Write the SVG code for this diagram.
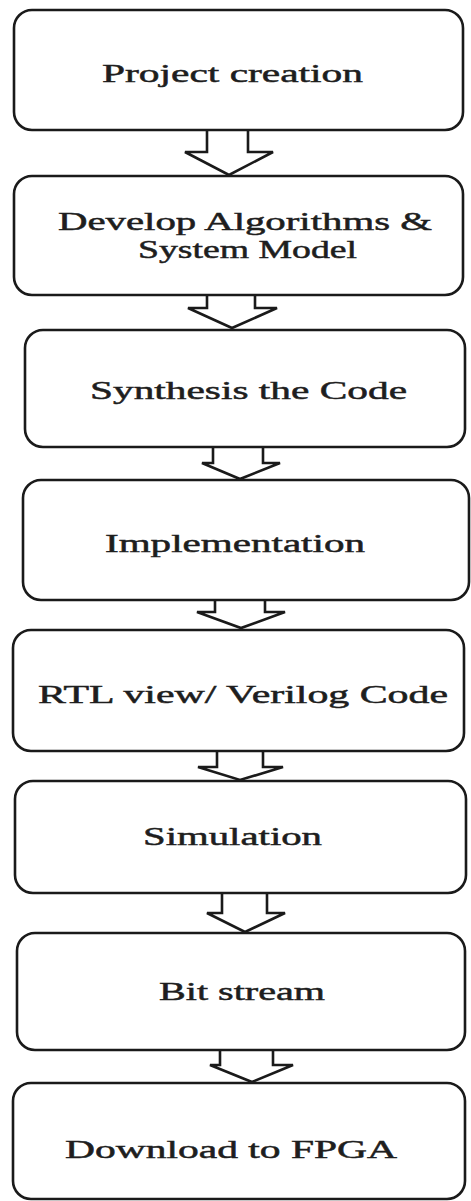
<svg xmlns="http://www.w3.org/2000/svg" width="471" height="1201" viewBox="0 0 471 1201">
<style>
.box{fill:#ffffff;stroke:#1a1a1a;stroke-width:2.6}
.arr{fill:#ffffff;stroke:#1a1a1a;stroke-width:2.6;stroke-linejoin:miter}
.lbl{font-family:"Liberation Serif","Times New Roman",serif;font-size:26px;fill:#1e1e1e;stroke:#1e1e1e;stroke-width:0.5}
</style>
<rect width="471" height="1201" fill="#ffffff"/>
<g id="connectors">
<path class="arr" d="M207,129 L207,152 L185,152 L229,175 L273,152 L248,152 L248,129"/>
<path class="arr" d="M207,294 L207,308 L188,308 L232,328 L277,308 L255,308 L255,294"/>
<path class="arr" d="M213,446 L213,463 L202,463 L240,479 L280,463 L263,463 L263,446"/>
<path class="arr" d="M215,599 L215,612 L197,612 L241,628 L285,612 L265,612 L265,599"/>
<path class="arr" d="M217,750 L217,767 L198,767 L240,780 L283,767 L263,767 L263,750"/>
<path class="arr" d="M222,892 L222,913 L207,913 L245,932 L285,913 L267,913 L267,892"/>
<path class="arr" d="M220,1049 L220,1065 L210,1065 L252,1082 L293,1065 L273,1065 L273,1049"/>
</g>
<g id="n1"><rect class="box" x="14" y="10" width="449" height="120" rx="18"/><text class="lbl" x="102" y="82" textLength="261" lengthAdjust="spacingAndGlyphs">Project creation</text></g>
<g id="n2"><rect class="box" x="14" y="176" width="449" height="119" rx="18"/><text class="lbl" x="58" y="230" textLength="374" lengthAdjust="spacingAndGlyphs">Develop Algorithms &amp;</text><text class="lbl" x="138" y="258" textLength="219" lengthAdjust="spacingAndGlyphs">System Model</text></g>
<g id="n3"><rect class="box" x="25" y="330" width="440" height="117" rx="18"/><text class="lbl" x="90" y="399" textLength="317" lengthAdjust="spacingAndGlyphs">Synthesis the Code</text></g>
<g id="n4"><rect class="box" x="23" y="480" width="446" height="120" rx="18"/><text class="lbl" x="105" y="552" textLength="260" lengthAdjust="spacingAndGlyphs">Implementation</text></g>
<g id="n5"><rect class="box" x="13" y="630" width="451" height="121" rx="18"/><text class="lbl" x="38" y="703" textLength="410" lengthAdjust="spacingAndGlyphs">RTL view/ Verilog Code</text></g>
<g id="n6"><rect class="box" x="15" y="781" width="451" height="112" rx="18"/><text class="lbl" x="143" y="845" textLength="179" lengthAdjust="spacingAndGlyphs">Simulation</text></g>
<g id="n7"><rect class="box" x="17" y="933" width="448" height="117" rx="18"/><text class="lbl" x="159" y="1000" textLength="166" lengthAdjust="spacingAndGlyphs">Bit stream</text></g>
<g id="n8"><rect class="box" x="13" y="1083" width="452" height="116" rx="18"/><text class="lbl" x="65" y="1158" textLength="332" lengthAdjust="spacingAndGlyphs">Download to FPGA</text></g>
</svg>
